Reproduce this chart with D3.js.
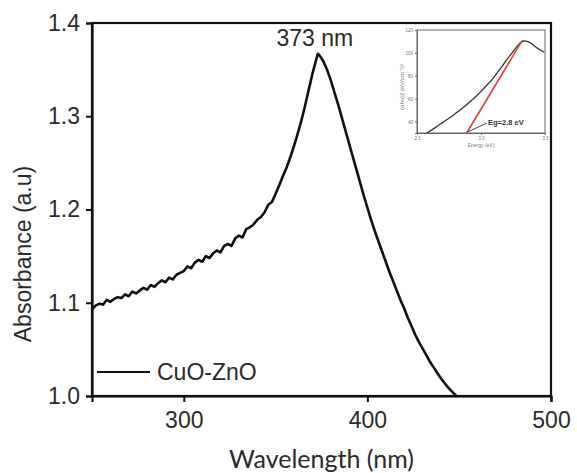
<!DOCTYPE html>
<html>
<head>
<meta charset="utf-8">
<script src="https://cdn.jsdelivr.net/npm/d3@7/dist/d3.min.js"></script>
<style>
  body { margin: 0; background: #fff; }
  svg { display: block; }
</style>
</head>
<body>
<svg id="chart" width="577" height="473"></svg>
<script>
// UV-Vis absorbance spectrum of CuO-ZnO
const wavelength = [
  250,252,254,256,258,260,262,264,266,268,270,272,274,276,278,280,282,284,286,288,
  290,292,294,296,298,300,302,304,306,308,310,312,314,316,318,320,322,324,326,328,
  330,332,334,336,338,340,342,344,346,348,350,352,354,356,358,360,362,364,366,368,
  370,372,373,374,376,378,380,382,384,386,388,390,392,394,396,398,400,402,404,406,
  408,410,412,414,416,418,420,422,424,426,428,430,432,434,436,438,440,442,444,446,
  448,450
];
const absorbance = [
  1.093,1.097,1.099,1.098,1.103,1.101,1.104,1.106,1.105,1.109,1.107,1.112,1.110,1.113,1.116,1.114,1.119,1.117,1.121,1.124,
  1.122,1.127,1.125,1.130,1.132,1.134,1.139,1.137,1.143,1.146,1.144,1.150,1.148,1.153,1.156,1.154,1.161,1.163,1.161,1.169,
  1.172,1.170,1.179,1.181,1.184,1.189,1.192,1.197,1.205,1.208,1.217,1.226,1.236,1.245,1.256,1.268,1.281,1.295,1.311,1.328,
  1.345,1.360,1.367,1.365,1.359,1.350,1.339,1.326,1.313,1.299,1.285,1.271,1.257,1.243,1.229,1.215,1.202,1.189,1.177,1.166,
  1.155,1.144,1.133,1.123,1.113,1.103,1.094,1.084,1.075,1.066,1.058,1.051,1.044,1.037,1.031,1.025,1.019,1.014,1.009,1.005,
  1.001,0.997
];
const seriesName = "CuO-ZnO";
const peakWavelength = 373;
const peakAbsorbance = 1.367;
const peakLabel = "373 nm";
const xTicks = [300, 400, 500];
const yTicks = [1.0, 1.1, 1.2, 1.3, 1.4];
const xTitle = "Wavelength (nm)";
const yTitle = "Absorbance (a.u)";

// Tauc plot inset
const taucEnergy = [2.576,2.64,2.705,2.77,2.836,2.90,2.966,3.03,3.096,3.15,3.20,3.24,3.279,3.31,3.33,3.35,3.383,3.43,3.494];
const taucValue  = [30,34.5,39.5,44.5,50.0,56.0,62.5,70.0,78.0,86.0,93.8,99.6,105.2,109.0,110.4,110.2,109.0,105.0,100.5];
const tangentEnergy = [2.888, 3.318];
const tangentValue = [30, 110];
const insetXTicks = [2.5, 3.0, 3.5];
const insetYTicks = [40, 60, 80, 100, 120];
const insetXTitle = "Energy (eV)";
const insetYTitle = "(αhν)2 (eV/cm⁻¹)²";
const gapLabel = "Eg=2.8 eV";

const svg = d3.select("#chart");
const plotLeft = 92, plotRight = 551, plotTop = 23, plotBottom = 396;

const x = d3.scaleLinear().domain([250, 500]).range([plotLeft, plotRight]);
const y = d3.scaleLinear().domain([1.0, 1.4]).range([plotBottom, plotTop]);

const font = "'Liberation Sans', Arial, sans-serif";

svg.append("defs").append("clipPath").attr("id", "plotClip")
  .append("rect").attr("x", plotLeft).attr("y", plotTop)
  .attr("width", plotRight - plotLeft).attr("height", plotBottom - plotTop);

// frame
svg.append("rect")
  .attr("x", plotLeft).attr("y", plotTop).attr("width", plotRight - plotLeft).attr("height", plotBottom - plotTop)
  .attr("fill", "none").attr("stroke", "#111").attr("stroke-width", 2.2);

// axes
const xAxis = svg.append("g").attr("transform", `translate(0,${plotBottom})`)
  .call(d3.axisBottom(x).tickValues(xTicks).tickFormat(d3.format("d")).tickSize(6).tickPadding(10));
const yAxis = svg.append("g").attr("transform", `translate(${plotLeft},0)`)
  .call(d3.axisLeft(y).tickValues(yTicks).tickFormat(d3.format(".1f")).tickSize(6).tickPadding(6));
[xAxis, yAxis].forEach(g => {
  g.select(".domain").attr("stroke", "#111").attr("stroke-width", 2.2);
  g.selectAll(".tick line").attr("stroke", "#111").attr("stroke-width", 2);
  g.selectAll(".tick text").attr("fill", "#2a2a2a").style("font-family", font).style("font-size", "23px");
});

// axis titles
svg.append("text").attr("x", (plotLeft + plotRight) / 2).attr("y", 458)
  .attr("text-anchor", "middle").attr("dominant-baseline", "central")
  .style("font-family", "Lato, 'Open Sans', sans-serif").style("font-size", "25px").attr("fill", "#2a2a2a")
  .text(xTitle);
svg.append("text").attr("transform", "translate(23,254) rotate(-90)")
  .attr("text-anchor", "middle").attr("dominant-baseline", "central")
  .style("font-family", font).style("font-size", "23px").attr("fill", "#2a2a2a")
  .text(yTitle);

// spectrum
const line = d3.line().x((d, i) => x(wavelength[i])).y(d => y(d));
svg.append("path").datum(absorbance)
  .attr("clip-path", "url(#plotClip)")
  .attr("d", line).attr("fill", "none").attr("stroke", "#111")
  .attr("stroke-width", 2.6).attr("stroke-linejoin", "round");

// peak label
svg.append("text").attr("x", x(peakWavelength) - 3).attr("y", y(peakAbsorbance) - 16)
  .attr("text-anchor", "middle").attr("dominant-baseline", "central")
  .style("font-family", font).style("font-size", "23px").attr("fill", "#2a2a2a")
  .text(peakLabel);

// legend
svg.append("line").attr("x1", plotLeft + 5).attr("x2", plotLeft + 58).attr("y1", 372).attr("y2", 372)
  .attr("stroke", "#111").attr("stroke-width", 2);
svg.append("text").attr("x", plotLeft + 65).attr("y", 372).attr("dominant-baseline", "central")
  .style("font-family", font).style("font-size", "23px").attr("fill", "#2a2a2a")
  .text(seriesName);

// inset: Tauc plot
const ix = d3.scaleLinear().domain([2.5, 3.5]).range([417, 545]);
const iy = d3.scaleLinear().domain([30, 120]).range([133, 30]);
const inset = svg.append("g");
inset.append("rect").attr("x", 417).attr("y", 30).attr("width", 128).attr("height", 103)
  .attr("fill", "none").attr("stroke", "#666").attr("stroke-width", 1);
const ixAxis = inset.append("g").attr("transform", "translate(0,133)")
  .call(d3.axisBottom(ix).tickValues(insetXTicks).tickFormat(d3.format(".1f")).tickSize(2).tickPadding(1.5));
const iyAxis = inset.append("g").attr("transform", "translate(417,0)")
  .call(d3.axisLeft(iy).tickValues(insetYTicks).tickFormat(d3.format("d")).tickSize(2).tickPadding(2));
[ixAxis, iyAxis].forEach(g => {
  g.select(".domain").attr("stroke", "#666").attr("stroke-width", 1);
  g.selectAll(".tick line").attr("stroke", "#666");
  g.selectAll(".tick text").attr("fill", "#777").style("font-family", font).style("font-size", "4.5px");
});
inset.append("text").attr("x", 481).attr("y", 145).attr("text-anchor", "middle")
  .attr("dominant-baseline", "central")
  .style("font-family", font).style("font-size", "5px").attr("fill", "#777").text(insetXTitle);
inset.append("text").attr("transform", "translate(402,87) rotate(-90)")
  .attr("text-anchor", "middle").attr("dominant-baseline", "central")
  .style("font-family", font).style("font-size", "6px").attr("fill", "#777").text(insetYTitle);

const taucLine = d3.line().x((d, i) => ix(taucEnergy[i])).y(d => iy(d)).curve(d3.curveMonotoneX);
inset.append("path").datum(taucValue).attr("d", taucLine)
  .attr("fill", "none").attr("stroke", "#333").attr("stroke-width", 1.3);
inset.append("line")
  .attr("x1", ix(tangentEnergy[0])).attr("y1", iy(tangentValue[0]))
  .attr("x2", ix(tangentEnergy[1])).attr("y2", iy(tangentValue[1]))
  .attr("stroke", "#e0403c").attr("stroke-width", 1.6);
inset.append("line")
  .attr("x1", ix(tangentEnergy[0]) + 1).attr("y1", iy(tangentValue[0]) - 1)
  .attr("x2", 487).attr("y2", 123)
  .attr("stroke", "#333").attr("stroke-width", 0.9);
inset.append("text").attr("x", 488).attr("y", 122).attr("dominant-baseline", "central")
  .style("font-family", font).style("font-size", "7.5px").style("font-weight", "bold")
  .attr("fill", "#333").text(gapLabel);
</script>
</body>
</html>
